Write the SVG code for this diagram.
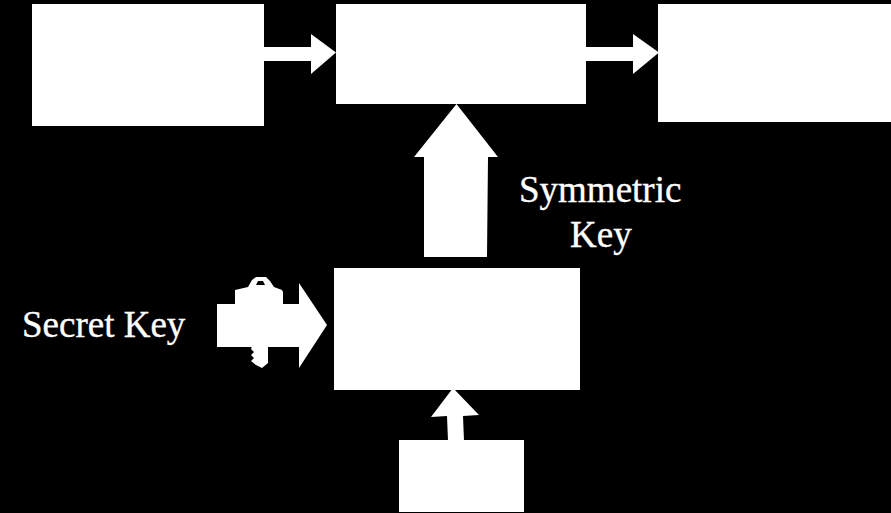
<svg xmlns="http://www.w3.org/2000/svg" width="891" height="513" viewBox="0 0 891 513">
<style>
.s{fill:#fff}
text{fill:#fff;stroke:#fff;stroke-width:.35px;font-family:"Liberation Serif","Times New Roman",serif;font-size:37px}
</style>
<rect width="891" height="513" fill="#000"/>
<g id="connectors">
<path class="s" d="M264 47H311V34L336 52.500L311 74V61H264Z"/>
<path class="s" d="M586 47H633V34L659 52.500L633 74V61H586Z"/>
<path class="s" d="M456.500 104L498 157H488L487 257H424V157H414Z"/>
<path class="s" d="M453 388L479 415L463 416L464 441H448L447 416L431 417Z"/>
<path class="s" d="M217 304H299V283L327 325L299 368V347H217Z"/>
</g>
<g id="node-top-left"><rect class="s" x="32" y="4" width="232" height="122"/></g>
<g id="node-top-middle"><rect class="s" x="336" y="4" width="250" height="100"/></g>
<g id="node-top-right"><rect class="s" x="658" y="4" width="233" height="118"/></g>
<g id="node-middle"><rect class="s" x="334" y="268" width="246" height="122"/></g>
<g id="node-bottom"><rect class="s" x="399" y="440" width="125" height="72"/></g>
<g id="key-icon">
<path class="s" fill-rule="evenodd" d="M235 290L248 287L252 280L256 277H266L270 281L274 287L282 290L283 292V305H235ZM256 285H265L263 281H258Z"/>
<path class="s" d="M252 346H268V363L262 368L256 365L251 361L254 358L251 355L254 352L251 349Z"/>
</g>
<g id="label-symmetric-key">
<text x="519" y="202">Symmetric</text>
<text x="570" y="247">Key</text>
</g>
<g id="label-secret-key"><text x="22" y="337">Secret Key</text></g>
</svg>
